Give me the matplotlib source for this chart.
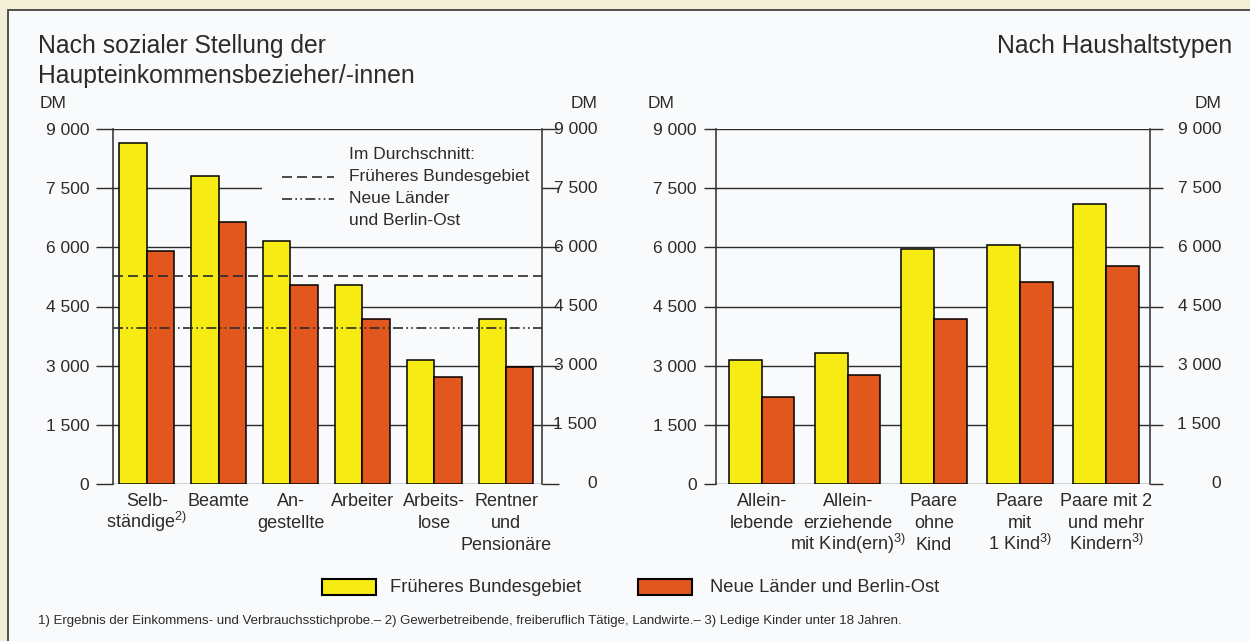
import matplotlib
matplotlib.use("Agg")
import numpy as np
from matplotlib import pyplot as plt
from matplotlib.patches import Rectangle
from matplotlib.lines import Line2D

plt.rcParams['font.family'] = ['Liberation Sans', 'DejaVu Sans']
plt.rcParams['mathtext.fontset'] = 'custom'
plt.rcParams['mathtext.rm'] = 'Liberation Sans'
plt.rcParams['mathtext.it'] = 'Liberation Sans'
plt.rcParams['mathtext.default'] = 'regular'

# data (DM per month)
soz_labels = ['Selb-\nständige$^{2)}$', 'Beamte', 'An-\ngestellte', 'Arbeiter',
              'Arbeits-\nlose', 'Rentner\nund\nPensionäre']
soz_west = [8650, 7800, 6170, 5050, 3140, 4190]
soz_ost = [5900, 6630, 5050, 4180, 2720, 2970]
avg_west = 5270
avg_ost = 3950

hh_labels = ['Allein-\nlebende', 'Allein-\nerziehende\nmit Kind(ern)$^{3)}$', 'Paare\nohne\nKind',
             'Paare\nmit\n1 Kind$^{3)}$', 'Paare mit 2\nund mehr\nKindern$^{3)}$']
hh_west = [3150, 3310, 5950, 6070, 7100]
hh_ost = [2200, 2770, 4180, 5110, 5530]

yticks = [0, 1500, 3000, 4500, 6000, 7500, 9000]
ytick_labels = ['0', '1 500', '3 000', '4 500', '6 000', '7 500', '9 000']

YELLOW = '#f6ec14'
ORANGE = '#e2571d'
INK = '#2b2b2b'
PANEL = '#f9fafb'

W, H = 1250, 641
fig = plt.figure(figsize=(12.5, 6.41), dpi=100, facecolor='#f3f0d8')
bg = fig.add_axes([0, 0, 1, 1], zorder=-10)
bg.set_xlim(0, W)
bg.set_ylim(H, 0)
bg.axis('off')
bg.add_patch(Rectangle((8, 10), W + 10, H + 10, facecolor=PANEL, edgecolor='#444444', lw=1.3))


def make_panel(rect, labels, west, ost, xlim, width, tick_len, right_x):
    ax = fig.add_axes(rect)
    ax.set_facecolor('none')
    x = np.arange(len(labels))
    for y in yticks:
        ax.axhline(y, color=INK, lw=1.0, zorder=1)
    ax.bar(x - width / 2, west, width, color=YELLOW, edgecolor='black', lw=1.1, zorder=3)
    ax.bar(x + width / 2, ost, width, color=ORANGE, edgecolor='black', lw=1.1, zorder=3)
    ax.set_xlim(*xlim)
    ax.set_ylim(0, 9000)
    ax.set_yticks(yticks)
    ax.set_yticklabels(ytick_labels)
    ax.set_xticks([])
    ax.tick_params(axis='y', left=True, right=True, labelleft=True, labelright=False,
                   length=tick_len, width=1.0, color=INK, labelsize=12.5, labelcolor=INK, pad=5)
    # category labels, one text per line so the spacing stays even
    for xi, lab in zip(x, labels):
        for k, line in enumerate(lab.split('\n')):
            ax.annotate(line, (xi, 0), xycoords=('data', 'axes fraction'),
                        xytext=(0, -15.8 * (k + 1)), textcoords='offset points',
                        ha='center', va='baseline', fontsize=13, color=INK)
    # right-hand labels, right aligned
    for y, lab in zip(yticks, ytick_labels):
        ax.text(right_x, y, lab, transform=ax.get_yaxis_transform(), ha='right', va='center',
                fontsize=12.5, color=INK)
    for sp in ['top', 'bottom']:
        ax.spines[sp].set_visible(False)
    for sp in ['left', 'right']:
        ax.spines[sp].set_color(INK)
        ax.spines[sp].set_linewidth(1.1)
    return ax


# left panel
axl = make_panel([113 / W, 1 - 484 / H, 429 / W, 355 / H], soz_labels, soz_west, soz_ost,
                 (-0.47, 5.5), 0.38, 12, (597 - 113) / 429)
# right panel
axr = make_panel([716 / W, 1 - 484 / H, 434 / W, 355 / H], hh_labels, hh_west, hh_ost,
                 (-0.53, 4.51), 0.38, 9, (1221 - 716) / 434)

# average lines and their legend (left panel)
axl.axhline(avg_west, color=INK, lw=1.2, linestyle=(0, (6, 3)), zorder=4)
axl.axhline(avg_ost, color=INK, lw=1.2, linestyle=(0, (6, 2, 1, 2, 1, 2)), zorder=4)
axl.add_patch(Rectangle(((262 - 113) / 429, 6350 / 9000), 1 - (262 - 113) / 429, 2550 / 9000,
                        transform=axl.transAxes, facecolor=PANEL, edgecolor='none', zorder=2))
axl.add_line(Line2D([0.395, 0.516], [0.865, 0.865], transform=axl.transAxes, color=INK,
                    lw=1.2, linestyle=(0, (6, 3)), zorder=4))
axl.add_line(Line2D([0.395, 0.516], [0.803, 0.803], transform=axl.transAxes, color=INK,
                    lw=1.2, linestyle=(0, (6, 2, 1, 2, 1, 2)), zorder=4))
for txt, yy in (('Im Durchschnitt:', 0.927), ('Früheres Bundesgebiet', 0.865),
                ('Neue Länder', 0.803), ('und Berlin-Ost', 0.741)):
    axl.text(0.551, yy, txt, transform=axl.transAxes, fontsize=12.5, color=INK,
             va='center', ha='left', zorder=5)

# titles
fig.text(38 / W, 1 - 46 / H, 'Nach sozialer Stellung der', fontsize=17.8, color=INK, va='center')
fig.text(38 / W, 1 - 76 / H, 'Haupteinkommensbezieher/-innen', fontsize=17.8, color=INK, va='center')
fig.text(1232 / W, 1 - 46 / H, 'Nach Haushaltstypen', fontsize=17.8, color=INK, va='center', ha='right')

# DM units
for xx, ha in ((40, 'left'), (597, 'right'), (648, 'left'), (1221, 'right')):
    fig.text(xx / W, 1 - 103 / H, 'DM', fontsize=12.5, color=INK, va='center', ha=ha)

# bottom legend
bg.add_patch(Rectangle((322, 579), 54, 16, facecolor=YELLOW, edgecolor='black', lw=1.5))
fig.text(390 / W, 1 - 588 / H, 'Früheres Bundesgebiet', fontsize=13.2, color=INK, va='center')
bg.add_patch(Rectangle((638, 579), 54, 16, facecolor=ORANGE, edgecolor='black', lw=1.5))
fig.text(710 / W, 1 - 588 / H, 'Neue Länder und Berlin-Ost', fontsize=13.2, color=INK, va='center')

# footnote
fig.text(38 / W, 1 - 621 / H,
         '1) Ergebnis der Einkommens- und Verbrauchsstichprobe.– 2) Gewerbetreibende, '
         'freiberuflich Tätige, Landwirte.– 3) Ledige Kinder unter 18 Jahren.',
         fontsize=9.5, color=INK, va='center')

fig.savefig('out.png', dpi=100, facecolor=fig.get_facecolor())
